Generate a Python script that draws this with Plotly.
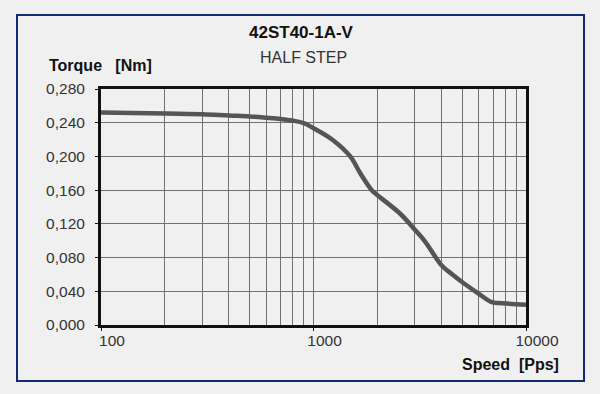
import plotly.graph_objects as go

speed = [100, 200, 300, 400, 500, 600, 700, 800, 900, 1000, 1240, 1490, 1660, 1880, 2000,
         2560, 3000, 3350, 4000, 4550, 5000, 6000, 6900, 7500, 10000]
torque = [0.252, 0.251, 0.250, 0.2485, 0.2475, 0.246, 0.2445, 0.2425, 0.2395, 0.2335, 0.219, 0.200,
          0.180, 0.160, 0.154, 0.132, 0.113, 0.099, 0.071, 0.059, 0.051, 0.037, 0.027, 0.026, 0.024]

x_major = [100, 1000, 10000]
x_minor = [200, 300, 400, 500, 600, 700, 800, 900, 2000, 3000, 4000, 5000, 6000, 7000, 8000, 9000]
y_ticks = [0.0, 0.04, 0.08, 0.12, 0.16, 0.20, 0.24, 0.28]

title = "42ST40-1A-V"
subtitle = "HALF STEP"
y_label = "Torque   [Nm]"
x_label = "Speed  [Pps]"

L, R, T, B = 101, 74, 89, 69
W, H = 600, 394
pw, ph = W - L - R, H - T - B

def px(x):
    return (x - L) / pw

def py(y):
    return (H - B - y) / ph

fig = go.Figure()
fig.add_trace(go.Scatter(x=speed, y=torque, mode="lines",
                         line=dict(color="#555555", width=4.5, shape="spline", smoothing=1.0),
                         hoverinfo="skip", showlegend=False))

font_family = "Liberation Sans, Arial, sans-serif"

fig.update_layout(
    width=W, height=H,
    margin=dict(l=L, r=R, t=T, b=B),
    paper_bgcolor="#f0f0f0",
    plot_bgcolor="#f0f0f0",
    separators=",.",
    font=dict(family=font_family, size=15, color="#333333"),
    xaxis=dict(type="log", range=[2, 4], tickvals=x_major, ticktext=[str(v) for v in x_major],
               showgrid=True, gridcolor="#707070", gridwidth=1,
               minor=dict(tickvals=x_minor, showgrid=True, gridcolor="#707070", gridwidth=1),
               showline=True, linecolor="#111111", linewidth=3, mirror=True,
               ticks="outside", ticklen=3, tickcolor="#111111",
               ticklabelshift=11, ticklabelstandoff=-4,
               tickfont=dict(size=15.5, color="#333333"), zeroline=False, fixedrange=True),
    yaxis=dict(range=[0, 0.28], tickvals=y_ticks, tickformat=".3f",
               showgrid=True, gridcolor="#707070", gridwidth=1,
               showline=True, linecolor="#111111", linewidth=3, mirror=True,
               ticks="outside", ticklen=3, tickcolor="#111111",
               ticklabelstandoff=7,
               tickfont=dict(size=15.5, color="#333333"), zeroline=False, fixedrange=True),
    shapes=[dict(type="rect", xref="paper", yref="paper",
                 x0=px(17), x1=px(584), y0=py(381), y1=py(15),
                 line=dict(color="#102a78", width=2), fillcolor="rgba(0,0,0,0)", layer="below")],
    annotations=[
        dict(text="<b>" + title + "</b>", xref="paper", yref="paper", x=px(301), y=py(33),
             showarrow=False, font=dict(size=17, color="#111111"), xanchor="center", yanchor="middle"),
        dict(text=subtitle, xref="paper", yref="paper", x=px(303), y=py(58),
             showarrow=False, font=dict(size=16, color="#333333"), xanchor="center", yanchor="middle"),
        dict(text="<b>" + y_label + "</b>", xref="paper", yref="paper", x=px(47), y=py(65),
             showarrow=False, font=dict(size=16, color="#111111"), xanchor="left", yanchor="middle"),
        dict(text="<b>" + x_label + "</b>", xref="paper", yref="paper", x=px(561), y=py(364),
             showarrow=False, font=dict(size=16, color="#111111"), xanchor="right", yanchor="middle"),
    ],
)

fig.write_html("out.html")
